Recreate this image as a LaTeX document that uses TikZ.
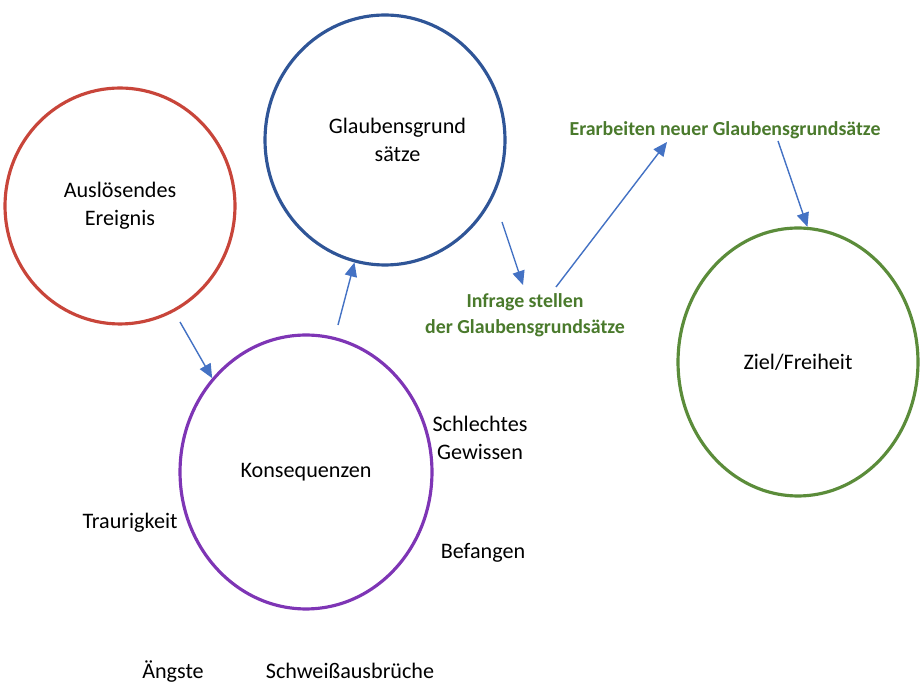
\documentclass[tikz,border=0pt]{standalone}
\usepackage{fontspec}
\setmainfont{Carlito}
\usepackage{xcolor}
\usetikzlibrary{arrows.meta,shapes.geometric}

\definecolor{redline}{HTML}{C8453A}
\definecolor{blueline}{HTML}{2F5597}
\definecolor{purpleline}{HTML}{7E35B5}
\definecolor{greenline}{HTML}{5B8C3A}
\definecolor{greentext}{HTML}{4A7A2C}
\definecolor{arrowblue}{HTML}{4472C4}

\begin{document}
\begin{tikzpicture}[x=0.02cm,y=-0.02cm,
  bubble/.style={draw,ellipse,line width=1.8pt,align=center,font=\fontsize{12.6}{16}\selectfont,inner sep=0pt},
  lbl/.style={align=center,font=\fontsize{12.6}{16}\selectfont},
  step lbl/.style={align=center,text=greentext,font=\bfseries\fontsize{11.3}{14.5}\selectfont},
  arr/.style={-{Triangle[length=8pt,width=7pt]},draw=arrowblue,fill=arrowblue,line width=0.8pt}]
\useasboundingbox (0,0) rectangle (920,688);
\node[bubble,draw=redline,minimum width=4.6cm,minimum height=4.72cm] (ausl) at (120,206) {Auslösendes\\Ereignis};
\node[bubble,draw=blueline,minimum width=4.8cm,minimum height=5.0cm] (glaub) at (385,140) {\hspace*{0.5cm}Glaubensgrund\\\hspace*{0.5cm}sätze};
\node[bubble,draw=purpleline,minimum width=5.04cm,minimum height=5.48cm] (kons) at (306,472) {Konsequenzen};
\node[bubble,draw=greenline,minimum width=4.8cm,minimum height=5.36cm] (ziel) at (798,362) {Ziel/Freiheit};

\node[lbl] (gewissen) at (480,438) {Schlechtes\\Gewissen};
\node[lbl] (befangen) at (483,553) {Befangen};
\node[lbl] (traurig) at (130,523) {Traurigkeit};
\node[lbl,anchor=base] (aengste) at (173,679) {Ängste};
\node[lbl,anchor=base] (schweiss) at (350,679) {Schweißausbrüche};

\node[step lbl] (infrage) at (525,315) {Infrage stellen\\der Glaubensgrundsätze};
\node[step lbl] (erarb) at (725,130) {Erarbeiten neuer Glaubensgrundsätze};

% arrow ends
\coordinate (a1) at (180,322);
\coordinate (a2) at (338,325);
\coordinate (a3) at (502,222);
\coordinate (a4) at (523,285);
\coordinate (a5) at (556,287);
\coordinate (a6) at (667,142);
\coordinate (a7) at (778,141);

\draw[arr] (a1) -- (kons.135);
\draw[arr] (a2) -- (glaub.-104);
\draw[arr] (a3) -- (a4);
\draw[arr] (a5) -- (a6);
\draw[arr] (a7) -- (ziel.86);
\end{tikzpicture}
\end{document}
